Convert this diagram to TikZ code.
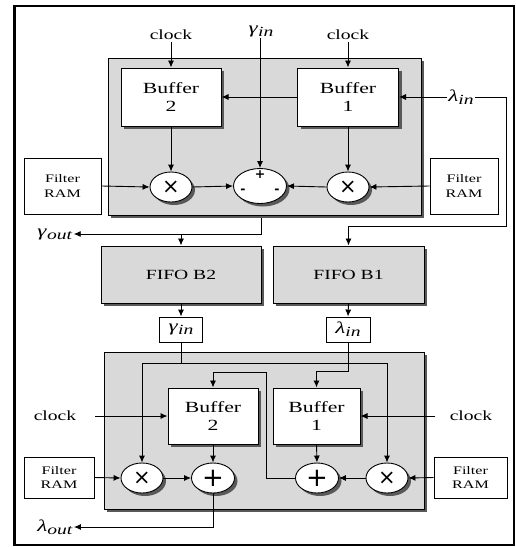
\documentclass[tikz,border=0pt]{standalone}
\usepackage{fontspec}
\setmainfont{Liberation Serif}[FakeStretch=1.4]
\newfontfamily\djv{DejaVu Sans}
\usetikzlibrary{shapes.geometric,shadows,arrows.meta,calc}
\newcommand\grk[2]{{\fontsize{16.5}{16.5}\selectfont\textit{#1}\raisebox{-3pt}{\fontsize{14}{14}\selectfont\textit{#2}}}}
\newcommand\mulsym{{\djv\fontsize{21}{21}\selectfont ×}}
\newcommand\addsym{{\djv\fontsize{26}{26}\selectfont +}}
\begin{document}
\begin{tikzpicture}[x=1pt,y=-1pt,
  shd/.style={drop shadow={shadow xshift=3pt,shadow yshift=-3pt,fill=black!65,opacity=1}},
  graybox/.style={draw,line width=1pt,fill=black!15,inner sep=0pt,shd},
  bufbox/.style={draw,line width=1pt,fill=white,inner sep=0pt,align=center,shd,
     font=\fontsize{15.5}{17.5}\selectfont},
  fifobox/.style={graybox,align=center,font=\fontsize{14}{16}\selectfont},
  ram/.style={draw,line width=0.9pt,fill=white,inner sep=0pt,align=center,
     font=\fontsize{11.5}{14.5}\selectfont},
  op/.style={ellipse,draw,line width=0.9pt,fill=white,inner sep=0pt,shd,
     minimum width=42pt,minimum height=30pt},
  lab/.style={inner sep=2pt,font=\fontsize{14}{16}\selectfont},
  smallbox/.style={draw,line width=0.9pt,fill=white,inner sep=0pt},
  sign/.style={inner sep=0pt,font=\djv\bfseries\fontsize{12.5}{12.5}\selectfont},
  conn/.style={line width=0.9pt,-{Latex[length=7pt,width=6pt]}},
  ln/.style={line width=0.9pt}]
\useasboundingbox (0,0) rectangle (516,547);
% outer frame
\draw[line width=1.3pt] (14,6) rectangle (514,545);
\draw[line width=3pt] (14.5,6) -- (14.5,545.6);

% ---------- top section ----------
\node[graybox,minimum width=313pt,minimum height=157pt] (topbox) at (264.5,136.5) {};
\node[bufbox,minimum width=100pt,minimum height=58pt] (b2t) at (171,97) {Buffer\\2};
\node[bufbox,minimum width=101pt,minimum height=58pt] (b1t) at (348,97) {Buffer\\1};
\node[op] (mTL) at (171,187) {\mulsym};
\node[op] (mTR) at (348,187) {\mulsym};
\node[op,minimum width=53pt,minimum height=35pt] (sub) at (260,186) {};
\node[sign] (sp) at ($(sub.center)+(0,-11)$) {+};
\node[sign] (sm1) at ($(sub.center)+(-17,5)$) {-};
\node[sign] (sm2) at ($(sub.center)+(17,5)$) {-};
\node[ram,minimum width=77pt,minimum height=56pt] (frTL) at (62.5,186) {Filter\\RAM};
\node[ram,minimum width=68pt,minimum height=56pt] (frTR) at (464,186) {Filter\\RAM};
\node[lab] (clkT1) at (171,35) {clock};
\node[lab] (clkT2) at (348,35) {clock};
\node[lab,inner sep=1pt] (gtop) at (261,31) {\grk{γ}{in}};
\node[lab,inner sep=1pt] (ltop) at (461,97) {\grk{λ}{in}};
\node[lab,inner sep=1pt] (gout) at (55,234) {\grk{γ}{out}};

\draw[conn] (clkT1.south) -- (b2t.north);
\draw[conn] (clkT2.south) -- (b1t.north);
\draw[conn] (gtop.south -| sub.north) -- (sub.north);
\draw[conn] (ltop.west) -- (b1t.east);
\draw[conn] (b1t.west) -- (b2t.east);
\draw[conn] (b2t.south) -- (mTL.north);
\draw[conn] (b1t.south) -- (mTR.north);
\draw[conn] (frTL.east) -- (mTL.west);
\draw[conn] (mTL.east) -- (sub.west);
\draw[conn] (frTR.west) -- (mTR.east);
\draw[conn] (mTR.west) -- (sub.east);

% ---------- FIFOs ----------
\node[fifobox,minimum width=160pt,minimum height=57pt] (f2) at (181,274.5) {FIFO B2};
\node[fifobox,minimum width=151pt,minimum height=57pt] (f1) at (348.5,274.5) {FIFO B1};
\node[smallbox,minimum width=43pt,minimum height=25pt] (gib) at (181,329.5) {\grk{γ}{in}};
\node[smallbox,minimum width=44pt,minimum height=25pt] (lib) at (348,329.5) {\grk{λ}{in}};

\coordinate (so) at (261,218);
\coordinate (fbr) at (506,226);
\draw[conn] (so) |- (gout.east);
\draw[conn] (f2.north |- gout.east) -- (f2.north);
\draw[conn] (ltop.east) -| (fbr) -| (f1.north);
\draw[conn] (f2.south) -- (gib.north);
\draw[conn] (f1.south) -- (lib.north);

% ---------- bottom section ----------
\node[graybox,minimum width=320pt,minimum height=157pt] (botbox) at (264,430.5) {};
\node[bufbox,minimum width=90pt,minimum height=56pt] (b2b) at (213,416) {Buffer\\2};
\node[bufbox,minimum width=87pt,minimum height=56pt] (b1b) at (316.5,416) {Buffer\\1};
\node[op] (mL) at (142,478) {\mulsym};
\node[op,minimum width=43pt] (aL) at (213,478) {\addsym};
\node[op,minimum width=43pt] (aR) at (317,478) {\addsym};
\node[op] (mR) at (387,478) {\mulsym};
\node[ram,minimum width=70pt,minimum height=41pt] (frBL) at (59,477.5) {Filter\\RAM};
\node[ram,minimum width=73pt,minimum height=41pt] (frBR) at (470.5,477.5) {Filter\\RAM};
\node[lab] (clkB1) at (55,416) {clock};
\node[lab] (clkB2) at (471,416) {clock};
\node[lab,inner sep=1pt] (lout) at (55,527) {\grk{λ}{out}};

\coordinate (gy) at (0,363);
\coordinate (ly) at (0,371);
\coordinate (fy) at (266,372);
\coordinate (ck1) at (95,416);
\coordinate (ck2) at (435,416);

\draw[conn] (gib.south) |- (mL.north |- gy) -- (mL.north);
\draw[conn] (gib.south |- gy) -| (mR.north);
\draw[conn] (lib.south) |- (b1b.north |- ly) -- (b1b.north);
\draw[conn] (aR.west) -| (fy) -| (b2b.north);
\draw[conn] (ck1) -- (b2b.west);
\draw[conn] (ck2) -- (b1b.east);
\draw[conn] (frBL.east) -- (mL.west);
\draw[conn] (mL.east) -- (aL.west);
\draw[conn] (b2b.south) -- (aL.north);
\draw[conn] (b1b.south) -- (aR.north);
\draw[conn] (mR.west) -- (aR.east);
\draw[conn] (frBR.west) -- (mR.east);
\draw[conn] (aL.south) |- (lout.east);
\end{tikzpicture}
\end{document}
